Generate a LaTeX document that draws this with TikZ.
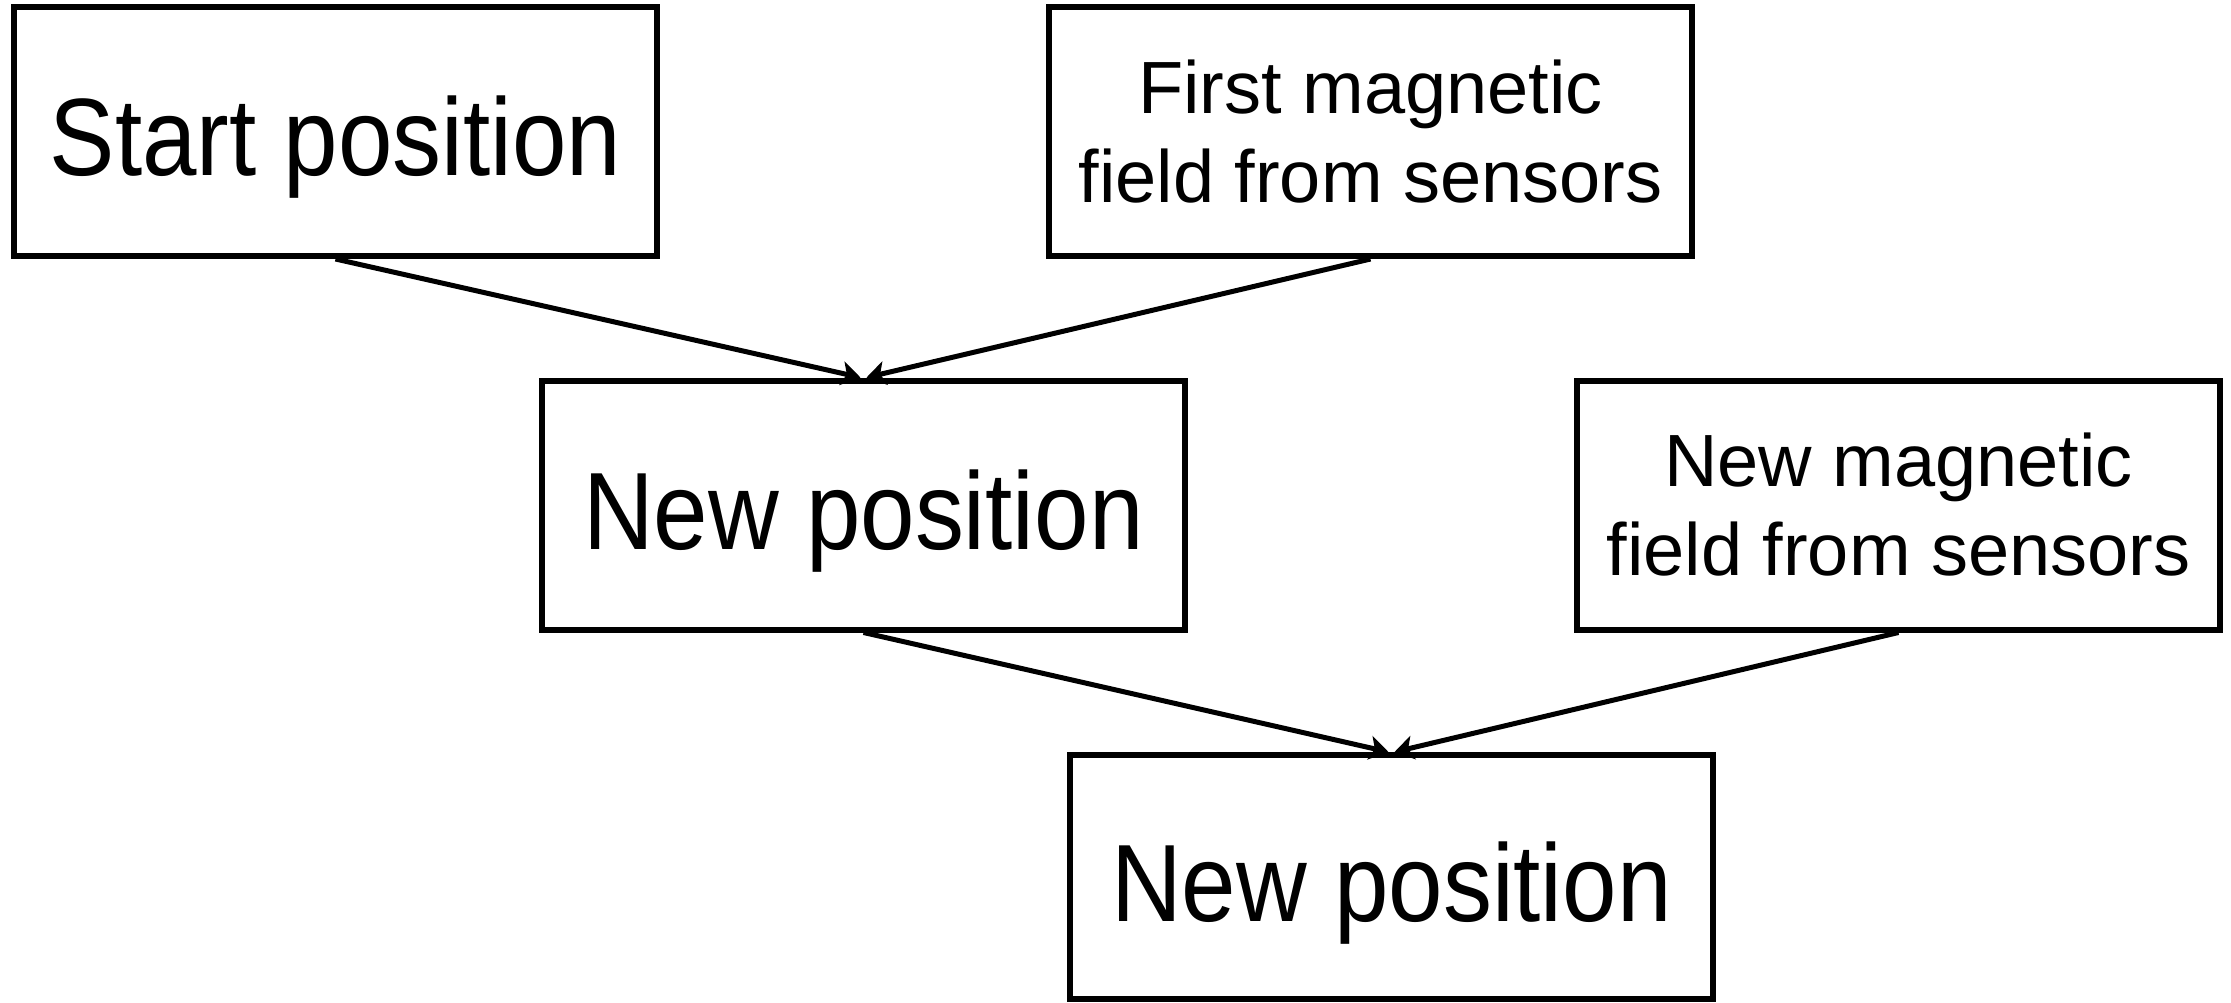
\documentclass[tikz,border=0pt]{standalone}
\usepackage{fontspec}
\setmainfont{Liberation Sans}
\newfontfamily\bigfont[FakeStretch=0.89]{Liberation Sans}
\usetikzlibrary{arrows.meta}
\begin{document}
\begin{tikzpicture}[x=1pt,y=-1pt,
  box/.style={draw=black, line width=6pt, minimum width=643pt, minimum height=249pt, inner sep=0pt, align=center, fill=white},
  big/.style={font=\bigfont\fontsize{110}{132}\selectfont, text height=88pt, text depth=0pt},
  small/.style={font=\fontsize{74}{89}\selectfont},
  conn/.style={line width=5pt, -{Stealth[length=19pt,width=24pt,inset=5pt]}}]
\useasboundingbox (0,0) rectangle (2231,1002);
\node[box,big] (start) at (335.5,131.5) {Start position};
\node[box,small] (field1) at (1370.5,131.5) {First magnetic\\field from sensors};
\node[box,big] (new1) at (863.5,505) {New position};
\node[box,small] (field2) at (1898.5,505) {New magnetic\\field from sensors};
\node[box,big,minimum height=244pt] (new2) at (1391.5,877) {New position};
\draw[conn] (start.south) -- ([xshift=-3pt]new1.north);
\draw[conn] (field1.south) -- ([xshift=3pt]new1.north);
\draw[conn] (new1.south) -- ([xshift=-3pt]new2.north);
\draw[conn] (field2.south) -- ([xshift=3pt]new2.north);
\end{tikzpicture}
\end{document}
